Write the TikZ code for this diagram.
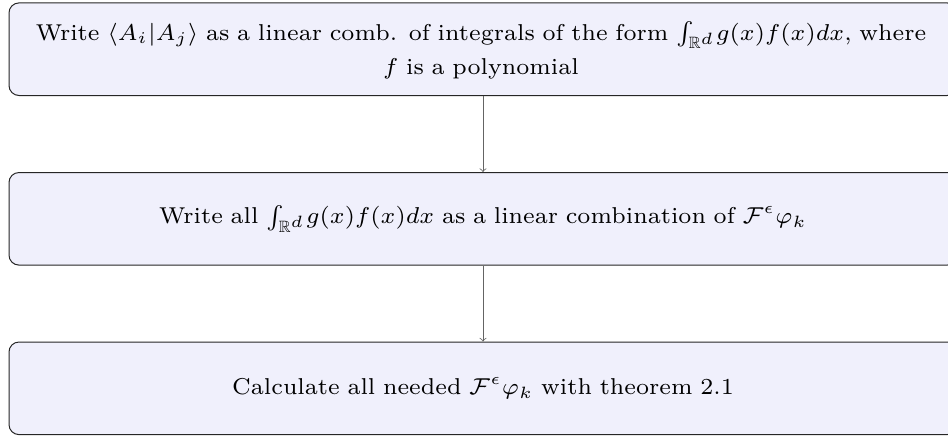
\documentclass[tikz,border=0pt]{standalone}
\usepackage{amsmath,amssymb}
\definecolor{boxfill}{RGB}{240,240,252}
\definecolor{linegray}{RGB}{100,100,100}
\begin{document}
\begin{tikzpicture}[x=0.5pt,y=-0.5pt,
  stepbox/.style={draw=black!85, fill=boxfill, rounded corners=5pt, line width=0.5pt,
    minimum width=474pt, minimum height=46.3pt, inner sep=0pt},
  steptext/.style={scale=1.64, transform shape, font=\scriptsize, text width=300pt,
    align=center, inner sep=0pt},
  conn/.style={draw=linegray, line width=0.4pt, -to}]
\useasboundingbox (0,0) rectangle (948,436);
\node[stepbox] (a) at (483,49.2) {};
\node[stepbox] (b) at (483,218.8) {};
\node[stepbox] (c) at (483,388.3) {};
\node[steptext] (ta) at (481,50.5) {Write $\langle A_i|A_j\rangle$ as a linear comb. of integrals of the form $\int_{\mathbb{R}^d}\! g(x)f(x)dx$, where\\[2.5pt] $f$ is a polynomial};
\node[steptext] (tb) at (483,218.8) {Write all $\int_{\mathbb{R}^d}\! g(x)f(x)dx$ as a linear combination of $\mathcal{F}^\epsilon\varphi_k$};
\node[steptext] (tc) at (483,388.3) {Calculate all needed $\mathcal{F}^\epsilon\varphi_k$ with theorem 2.1};
\draw[conn] (a) -- (b);
\draw[conn] (b) -- (c);
\end{tikzpicture}
\end{document}
